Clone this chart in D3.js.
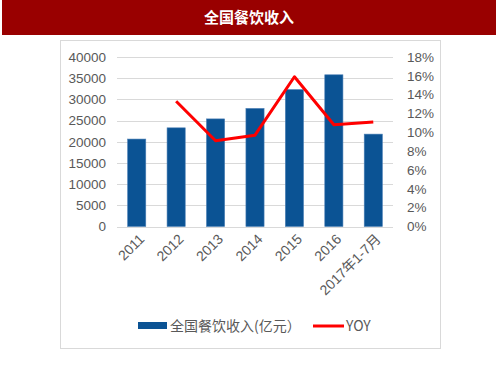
<!DOCTYPE html>
<html>
<head>
<meta charset="utf-8">
<script src="https://cdn.jsdelivr.net/npm/d3@7"></script>
<style>
  body { margin: 0; background: #fff; }
  svg { display: block; font-family: "Microsoft YaHei", "Noto Sans CJK SC", sans-serif; }
</style>
</head>
<body>
<svg id="chart" width="500" height="375"></svg>
<script>
// chart data
var categories = ["2011", "2012", "2013", "2014", "2015", "2016", "2017年1-7月"];
var revenue = [20635, 23283, 25392, 27860, 32310, 35799, 21800];
var yoy = [null, 13.3, 9.1, 9.7, 15.9, 10.8, 11.1];
var leftTicks = [0, 5000, 10000, 15000, 20000, 25000, 30000, 35000, 40000];
var rightTicks = [0, 2, 4, 6, 8, 10, 12, 14, 16, 18];
var title = "全国餐饮收入";
var barName = "全国餐饮收入(亿元）";
var lineName = "YOY";

var svg = d3.select("#chart");
var textColor = "#595959";

// header band
svg.append("rect")
    .attr("x", 2).attr("y", 0)
    .attr("width", 494).attr("height", 35)
    .attr("fill", "#990000");
svg.append("text")
    .attr("x", 249).attr("y", 23)
    .attr("text-anchor", "middle")
    .attr("font-size", "15px")
    .attr("font-weight", "bold")
    .attr("fill", "#fff")
    .text(title);

// chart frame
svg.append("rect")
    .attr("x", 60.5).attr("y", 40.5)
    .attr("width", 380).attr("height", 308)
    .attr("fill", "#fff")
    .attr("stroke", "#d9d9d9");

// plot area (not "top": that name is taken by window.top)
var plotLeft = 117, plotRight = 393, plotTop = 57, plotBottom = 226.5;

var x = d3.scaleBand().domain(categories).range([plotLeft, plotRight]).paddingInner(0.54).paddingOuter(0.27);
var yLeft = d3.scaleLinear().domain([0, 40000]).range([plotBottom, plotTop]);
var yRight = d3.scaleLinear().domain([0, 18]).range([plotBottom, plotTop]);

// gridlines
svg.append("g").selectAll("line")
    .data(leftTicks)
    .join("line")
    .attr("x1", plotLeft).attr("x2", plotRight)
    .attr("y1", function (d) { return Math.round(yLeft(d)) + 0.5; })
    .attr("y2", function (d) { return Math.round(yLeft(d)) + 0.5; })
    .attr("stroke", "#d9d9d9");

// left axis
var axisL = svg.append("g")
    .attr("transform", "translate(" + (plotLeft - 11) + ",0)")
    .call(d3.axisLeft(yLeft).tickValues(leftTicks).tickSize(0).tickPadding(0)
        .tickFormat(d3.format("d")));
axisL.select(".domain").remove();
axisL.selectAll("text").attr("font-size", "13.5px").attr("fill", textColor)
    .attr("font-family", "Liberation Sans, Arial, sans-serif");

// right axis
var axisR = svg.append("g")
    .attr("transform", "translate(" + (plotRight + 14) + ",0)")
    .call(d3.axisRight(yRight).tickValues(rightTicks).tickSize(0).tickPadding(0)
        .tickFormat(function (d) { return d + "%"; }));
axisR.select(".domain").remove();
axisR.selectAll("text").attr("font-size", "13.5px").attr("fill", textColor)
    .attr("font-family", "Liberation Sans, Arial, sans-serif");

// bars
svg.append("g").selectAll("rect")
    .data(revenue)
    .join("rect")
    .attr("x", function (d, i) { return x(categories[i]); })
    .attr("y", function (d) { return yLeft(d); })
    .attr("width", x.bandwidth())
    .attr("height", function (d) { return plotBottom - yLeft(d); })
    .attr("fill", "#0b5394")
    .attr("stroke", "#4a7fb5")
    .attr("stroke-width", 0.6);

// yoy line
var lineData = yoy.map(function (v, i) { return { c: categories[i], v: v }; })
    .filter(function (d) { return d.v !== null; });
var line = d3.line()
    .x(function (d) { return x(d.c) + x.bandwidth() / 2; })
    .y(function (d) { return yRight(d.v); });
svg.append("path")
    .datum(lineData)
    .attr("d", line)
    .attr("fill", "none")
    .attr("stroke", "#ff0000")
    .attr("stroke-width", 3)
    .attr("stroke-linejoin", "round");

// x labels
svg.append("g").selectAll("text")
    .data(categories)
    .join("text")
    .attr("transform", function (d) {
        return "translate(" + (x(d) + x.bandwidth() / 2 + 5) + "," + (plotBottom + 10) + ") rotate(-45)";
    })
    .attr("text-anchor", "end")
    .attr("dy", "0.35em")
    .attr("font-size", "14px")
    .attr("fill", textColor)
    .attr("font-family", "Liberation Sans, Noto Sans CJK SC, sans-serif")
    .text(function (d) { return d; });

// legend
var legend = svg.append("g");
legend.append("rect")
    .attr("x", 138).attr("y", 322)
    .attr("width", 29).attr("height", 7)
    .attr("fill", "#0b5394");
legend.append("text")
    .attr("x", 170).attr("y", 331)
    .attr("font-size", "14px")
    .attr("fill", textColor)
    .text(barName);
legend.append("line")
    .attr("x1", 313).attr("x2", 344)
    .attr("y1", 326).attr("y2", 326)
    .attr("stroke", "#ff0000")
    .attr("stroke-width", 3);
legend.append("text")
    .attr("x", 346).attr("y", 331)
    .attr("font-size", "14px")
    .attr("fill", textColor)
    .text(lineName);
</script>
</body>
</html>
